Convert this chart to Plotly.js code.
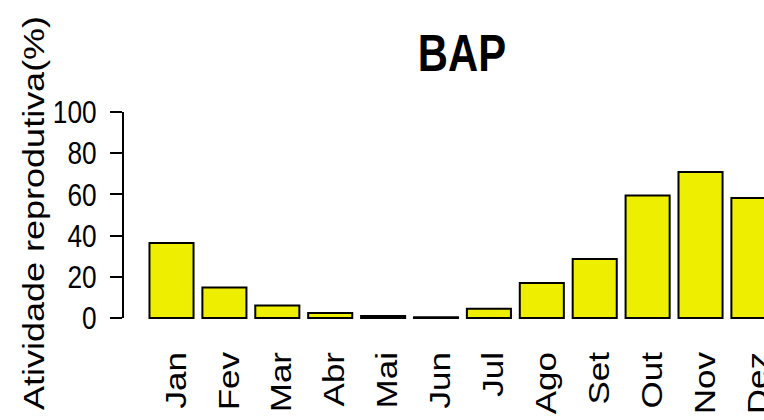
<!DOCTYPE html>
<html>
<head>
<meta charset="utf-8">
<script src="https://cdn.plot.ly/plotly-3.0.1.min.js"></script>
<style>html,body{margin:0;padding:0;background:#fff;}#chart{width:764px;height:420px;}</style>
</head>
<body>
<div id="chart"></div>
<script>
const months = ["Jan","Fev","Mar","Abr","Mai","Jun","Jul","Ago","Set","Out","Nov","Dez"];
const activity = [36.4, 14.8, 6.0, 2.4, 1.0, 0.3, 4.5, 17.0, 28.6, 59.5, 70.9, 58.3];
const yTicks = [0, 20, 40, 60, 80, 100];
const chartTitle = "BAP";
const yTitle = "Atividade reprodutiva(%)";

const xIdx = months.map((m, i) => i);
const font = "Liberation Sans, Arial, Helvetica, sans-serif";
const squeezeK = 0.82;

const yMin = -1, yMax = 100;

const trace = {
  type: "bar",
  x: xIdx,
  y: activity,
  marker: { color: "#EEEE00", line: { color: "#000000", width: 2 } },
  hoverinfo: "skip"
};

const layout = {
  width: 764,
  height: 420,
  margin: { l: 123, r: 0, t: 112, b: 100, pad: 0 },
  paper_bgcolor: "#ffffff",
  plot_bgcolor: "#ffffff",
  showlegend: false,
  bargap: 0.167,
  title: {
    text: "<b>" + chartTitle + "</b>",
    font: { family: font, size: 51, color: "#000" },
    x: 462 / 764, xref: "container", xanchor: "center",
    y: 1 - 53 / 420, yref: "container", yanchor: "middle"
  },
  xaxis: {
    range: [-0.917, 11.2],
    tickmode: "array",
    tickvals: xIdx,
    ticktext: months,
    tickangle: -90,
    ticks: "",
    showline: false,
    showgrid: false,
    zeroline: false,
    ticklabelstandoff: 24,
    ticklabelshift: 5,
    ticklabeloverflow: "allow",
    tickfont: { family: font, size: 35, color: "#000" }
  },
  yaxis: {
    range: [yMin, yMax],
    tickmode: "array",
    tickvals: yTicks,
    ticktext: yTicks.map(String),
    ticks: "outside",
    ticklen: 12,
    tickwidth: 2,
    tickcolor: "#000",
    showline: false,
    showgrid: false,
    zeroline: false,
    ticklabelstandoff: 7,
    tickfont: { family: font, size: 32, color: "#000" }
  },
  annotations: [{
    text: yTitle,
    textangle: -90,
    showarrow: false,
    xref: "paper", yref: "paper",
    x: (33 - 123) / 641, y: (320 - 213) / 208,
    xanchor: "center", yanchor: "middle",
    font: { family: font, size: 36, color: "#000" }
  }],
  shapes: [{
    type: "line", xref: "paper", yref: "paper",
    x0: 0, x1: 0,
    y0: (0 - yMin) / (yMax - yMin), y1: (100 - yMin) / (yMax - yMin),
    line: { color: "#000", width: 2 }
  }]
};

// The reference's lettering is horizontally condensed; narrow each text node in screen x.
function squeeze(el, mode) {
  const svg = el.ownerSVGElement || el.closest("svg");
  if (!svg) return;
  const sr = svg.getBoundingClientRect();
  const r = el.getBoundingClientRect();
  const sx = (mode === "right" ? r.right : (r.left + r.right) / 2) - sr.left;
  const pm = el.parentNode.getCTM ? el.parentNode.getCTM() : null;
  const px = pm ? (sx - pm.e) / pm.a : sx;
  const old = el.getAttribute("transform") || "";
  el.setAttribute("transform",
    "translate(" + px + ",0) scale(" + squeezeK + ",1) translate(" + (-px) + ",0) " + old);
}

Plotly.newPlot("chart", [trace], layout, { staticPlot: true, displayModeBar: false }).then(function (gd) {
  gd.querySelectorAll(".ytick text").forEach(el => squeeze(el, "right"));
  gd.querySelectorAll(".xtick text").forEach(el => squeeze(el, "center"));
  gd.querySelectorAll(".gtitle").forEach(el => squeeze(el, "center"));
  gd.querySelectorAll("g.annotation").forEach(el => squeeze(el, "center"));
});
</script>
</body>
</html>
